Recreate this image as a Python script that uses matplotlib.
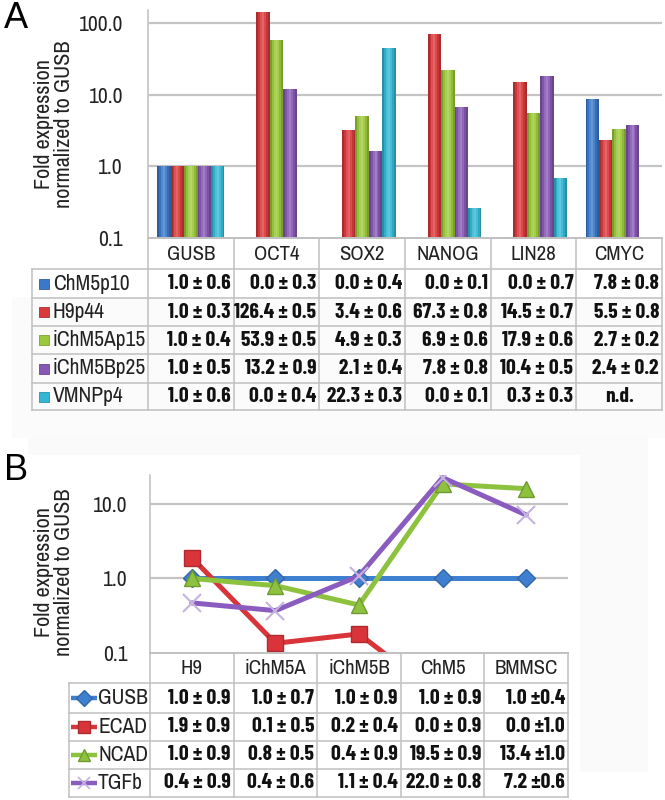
import numpy as np
import matplotlib
matplotlib.use("Agg")
import matplotlib.pyplot as plt
from matplotlib.patches import Rectangle
import matplotlib.colors as mcolors

REG = ['Archivo Narrow', 'Liberation Sans', 'DejaVu Sans']
BOLD = ['Barlow Condensed', 'Liberation Sans', 'DejaVu Sans']
plt.rcParams['font.family'] = REG

# ---------------- data: panel A ----------------
genes = ['GUSB', 'OCT4', 'SOX2', 'NANOG', 'LIN28', 'CMYC']
samples_A = ['ChM5p10', 'H9p44', 'iChM5Ap15', 'iChM5Bp25', 'VMNPp4']
bars_ChM5p10 = [1.0, 0.0, 0.0, 0.0, 0.0, 8.7]
bars_H9p44 = [1.0, 140.0, 3.2, 71.0, 14.8, 2.35]
bars_iChM5Ap15 = [1.0, 58.0, 5.1, 22.0, 5.6, 3.3]
bars_iChM5Bp25 = [1.0, 12.0, 1.65, 6.8, 18.0, 3.8]
bars_VMNPp4 = [1.0, 0.0, 45.0, 0.26, 0.69, np.nan]
tbl_ChM5p10 = ['1.0 ± 0.6', '0.0 ± 0.3', '0.0 ± 0.4', '0.0 ± 0.1', '0.0 ± 0.7', '7.8 ± 0.8']
tbl_H9p44 = ['1.0 ± 0.3', '126.4 ± 0.5', '3.4 ± 0.6', '67.3 ± 0.8', '14.5 ± 0.7', '5.5 ± 0.8']
tbl_iChM5Ap15 = ['1.0 ± 0.4', '53.9 ± 0.5', '4.9 ± 0.3', '6.9 ± 0.6', '17.9 ± 0.6', '2.7 ± 0.2']
tbl_iChM5Bp25 = ['1.0 ± 0.5', '13.2 ± 0.9', '2.1 ± 0.4', '7.8 ± 0.8', '10.4 ± 0.5', '2.4 ± 0.2']
tbl_VMNPp4 = ['1.0 ± 0.6', '0.0 ± 0.4', '22.3 ± 0.3', '0.0 ± 0.1', '0.3 ± 0.3', 'n.d.']
yticks_A = [0.1, 1.0, 10.0, 100.0]
yticklabels_A = ['0.1', '1.0', '10.0', '100.0']

# ---------------- data: panel B ----------------
cells_B = ['H9', 'iChM5A', 'iChM5B', 'ChM5', 'BMMSC']
markers_B = ['GUSB', 'ECAD', 'NCAD', 'TGFb']
line_GUSB = [1.0, 1.0, 1.0, 1.0, 1.0]
line_ECAD = [1.9, 0.135, 0.18, 0.025, 0.02]
line_NCAD = [1.0, 0.8, 0.44, 18.5, 16.0]
line_TGFb = [0.47, 0.37, 1.08, 22.5, 7.1]
tbl_GUSB = ['1.0 ± 0.9', '1.0 ± 0.7', '1.0 ± 0.9', '1.0 ± 0.9', '1.0 ±0.4']
tbl_ECAD = ['1.9 ± 0.9', '0.1 ± 0.5', '0.2 ± 0.4', '0.0 ± 0.9', '0.0 ±1.0']
tbl_NCAD = ['1.0 ± 0.9', '0.8 ± 0.5', '0.4 ± 0.9', '19.5 ± 0.9', '13.4 ±1.0']
tbl_TGFb = ['0.4 ± 0.9', '0.4 ± 0.6', '1.1 ± 0.4', '22.0 ± 0.8', '7.2 ±0.6']
yticks_B = [0.1, 1.0, 10.0]
yticklabels_B = ['0.1', '1.0', '10.0']

# ---------------- styles ----------------
colors_A = ['#3b78c8', '#d93a3c', '#9cc93c', '#8658b4', '#33b7d4']
colors_B = ['#3f7fcf', '#d8343a', '#8dc23f', '#8a5cbf']
grid_c = '#c4c4c4'
W, H = 665, 800
FS_TICK = 15.5
FS_CAT = 15
FS_ROW = 15.5
FS_VAL = 15.5
FS_YLAB = 16

fig = plt.figure(figsize=(W / 100, H / 100), dpi=100)


def px_axes(l, t, r, b, z=1):
    return fig.add_axes([l / W, 1 - b / H, (r - l) / W, (b - t) / H], zorder=z)


# background overlay
bg = px_axes(0, 0, W, H, z=0)
bg.set_xlim(0, W); bg.set_ylim(H, 0); bg.axis('off')
bg.add_patch(Rectangle((12, 297), 653, 141, facecolor='#fbfbfb', edgecolor='none'))
bg.add_patch(Rectangle((28, 438), 620, 334, facecolor='#fafafa', edgecolor='none'))
bg.add_patch(Rectangle((28, 455), 552, 317, facecolor='white', edgecolor='none'))

# foreground overlay for tables and labels
fg = px_axes(0, 0, W, H, z=5)
fg.set_xlim(0, W); fg.set_ylim(H, 0); fg.axis('off')
fg.patch.set_alpha(0)


def shade(c, f):
    rgb = np.array(mcolors.to_rgb(c))
    if f >= 1:
        return tuple(rgb + (1 - rgb) * (f - 1))
    return tuple(rgb * f)


# ================= Panel A =================
axA = px_axes(148, 10, 662, 238, z=2)
axA.patch.set_alpha(0)
axA.set_yscale('log')
axA.set_ylim(0.1, 151)
axA.set_xlim(-0.5, len(genes) - 0.5)
series_A = [bars_ChM5p10, bars_H9p44, bars_iChM5Ap15, bars_iChM5Bp25, bars_VMNPp4]
bw = 0.157
nsl = 7
profile = [0.78, 0.95, 1.12, 1.22, 1.08, 0.92, 0.78]
x = np.arange(len(genes))
for j, (vals, col) in enumerate(zip(series_A, colors_A)):
    vals = np.asarray(vals, float)
    off = (j - 2) * bw
    zero = vals == 0
    h = np.where(zero, 0.104, vals)
    for k in range(nsl):
        xs = x + off - bw / 2 + (k + 0.5) * bw / nsl
        c = shade(col, profile[k])
        axA.bar(xs, h - 0.1, bottom=0.1, width=bw / nsl * 1.02, color=c,
                edgecolor='none', zorder=3)
    axA.bar(x[zero] + off, 0.104 - 0.1, bottom=0.1, width=bw, color=shade(col, 1.45),
            edgecolor='none', zorder=4)
for yv in [1, 10, 100]:
    axA.axhline(yv, color=grid_c, lw=1.6, zorder=1)
for s in ['top', 'right', 'bottom']:
    axA.spines[s].set_visible(False)
axA.spines['left'].set_color(grid_c)
axA.spines['left'].set_linewidth(1.2)
axA.set_xticks([])
axA.set_yticks(yticks_A)
axA.set_yticklabels(yticklabels_A, fontsize=FS_TICK, color='#222222')
axA.yaxis.set_minor_locator(matplotlib.ticker.NullLocator())
axA.tick_params(axis='y', length=0, pad=18)
fg.text(54, 124, 'Fold expression\nnormalized to GUSB', rotation=90, ha='center',
        va='center', fontsize=FS_YLAB, linespacing=1.05, color='#222222')
fg.text(4, 18, 'A', fontsize=26, ha='left', va='center', family='Liberation Sans')

# table A
colw_A = (662 - 148) / len(genes)
rows_A = [269, 298, 326, 354, 383, 410]
lc = '#c0c0c0'
for k in range(len(genes) + 1):
    xx = 148 + k * colw_A
    fg.plot([xx, xx], [238, 410], color=lc, lw=1.1)
fg.plot([148, 662], [238, 238], color=lc, lw=1.4)
for yy in rows_A:
    fg.plot([32, 662], [yy, yy], color=lc, lw=1.1)
fg.plot([32, 32], [269, 410], color=lc, lw=1.1)
for i, g in enumerate(genes):
    fg.text(148 + (i + 0.5) * colw_A, 254, g, ha='center', va='center',
            fontsize=FS_CAT, color='#222222')
tbls_A = [tbl_ChM5p10, tbl_H9p44, tbl_iChM5Ap15, tbl_iChM5Bp25, tbl_VMNPp4]
for r, (name, col, row) in enumerate(zip(samples_A, colors_A, tbls_A)):
    yc = (rows_A[r] + rows_A[r + 1]) / 2
    fg.add_patch(Rectangle((39, yc - 5), 10, 10, facecolor=col, edgecolor=shade(col, 0.8), lw=0.6))
    fg.text(53, yc, name, ha='left', va='center', fontsize=FS_ROW, color='#222222')
    for i, s in enumerate(row):
        if s == 'n.d.':
            fg.text(148 + (i + 0.5) * colw_A, yc, s, ha='center', va='center', family=BOLD,
                    fontsize=FS_VAL, fontweight='bold', color='#111111')
        else:
            fg.text(148 + (i + 1) * colw_A - 3, yc, s, ha='right', va='center', family=BOLD,
                    fontsize=FS_VAL, fontweight='bold', color='#111111')

# ================= Panel B =================
axB = px_axes(150, 475, 568, 653, z=2)
axB.patch.set_alpha(0)
axB.set_yscale('log')
axB.set_ylim(0.1, 24.4)
axB.set_xlim(-0.5, len(cells_B) - 0.5)
series_B = [line_GUSB, line_ECAD, line_NCAD, line_TGFb]
mk = ['D', 's', '^', 'x']
ms = [9, 11.5, 12, 13]
xb = np.arange(len(cells_B))
for vals, col, m, s in zip(series_B, colors_B, mk, ms):
    if m == 'x':
        axB.plot(xb, vals, color=col, lw=3.6, zorder=3, solid_capstyle='round')
        axB.plot(xb, vals, ls='none', marker='x', ms=s, mew=1.5, color='#c4b3e0', zorder=4)
    else:
        axB.plot(xb, vals, color=col, lw=3.6, marker=m, ms=s, mfc=col,
                 mec=shade(col, 0.8), mew=1, zorder=3, solid_capstyle='round')
for yv in [1, 10]:
    axB.axhline(yv, color=grid_c, lw=1.6, zorder=1)
for s in ['top', 'right', 'bottom']:
    axB.spines[s].set_visible(False)
axB.spines['left'].set_color(grid_c)
axB.spines['left'].set_linewidth(1.2)
axB.set_xticks([])
axB.set_yticks(yticks_B)
axB.set_yticklabels(yticklabels_B, fontsize=FS_TICK, color='#222222')
axB.yaxis.set_minor_locator(matplotlib.ticker.NullLocator())
axB.tick_params(axis='y', length=0, pad=16)
fg.text(54, 572, 'Fold expression\nnormalized to GUSB', rotation=90, ha='center',
        va='center', fontsize=FS_YLAB, linespacing=1.05, color='#222222')
fg.text(4, 470, 'B', fontsize=26, ha='left', va='center', family='Liberation Sans')

colw_B = (568 - 150) / len(cells_B)
rows_B = [683, 713, 741, 769, 797]
for k in range(len(cells_B) + 1):
    xx = 150 + k * colw_B
    fg.plot([xx, xx], [653, 797], color=lc, lw=1.1)
fg.plot([150, 568], [653, 653], color=lc, lw=1.4)
for yy in rows_B:
    fg.plot([69, 568], [yy, yy], color=lc, lw=1.1)
fg.plot([69, 69], [683, 797], color=lc, lw=1.1)
for i, c in enumerate(cells_B):
    fg.text(150 + (i + 0.5) * colw_B, 669, c, ha='center', va='center',
            fontsize=FS_CAT, color='#222222')
tbls_B = [tbl_GUSB, tbl_ECAD, tbl_NCAD, tbl_TGFb]
for r, (name, col, m, row) in enumerate(zip(markers_B, colors_B, mk, tbls_B)):
    yc = (rows_B[r] + rows_B[r + 1]) / 2
    fg.plot([71, 97], [yc, yc], color=col, lw=3.2, solid_capstyle='butt')
    if m == 'x':
        fg.plot([84], [yc], marker='x', ms=9, mew=1.2, color='#c4b3e0')
    else:
        fg.plot([84], [yc], marker=m, ms=8, color=col, mec=shade(col, 0.8))
    fg.text(98, yc, name, ha='left', va='center', fontsize=FS_ROW, color='#222222')
    for i, s in enumerate(row):
        fg.text(150 + (i + 1) * colw_B - 3, yc, s, ha='right', va='center', family=BOLD,
                fontsize=FS_VAL, fontweight='bold', color='#111111')

fig.savefig('out.png', dpi=100)
